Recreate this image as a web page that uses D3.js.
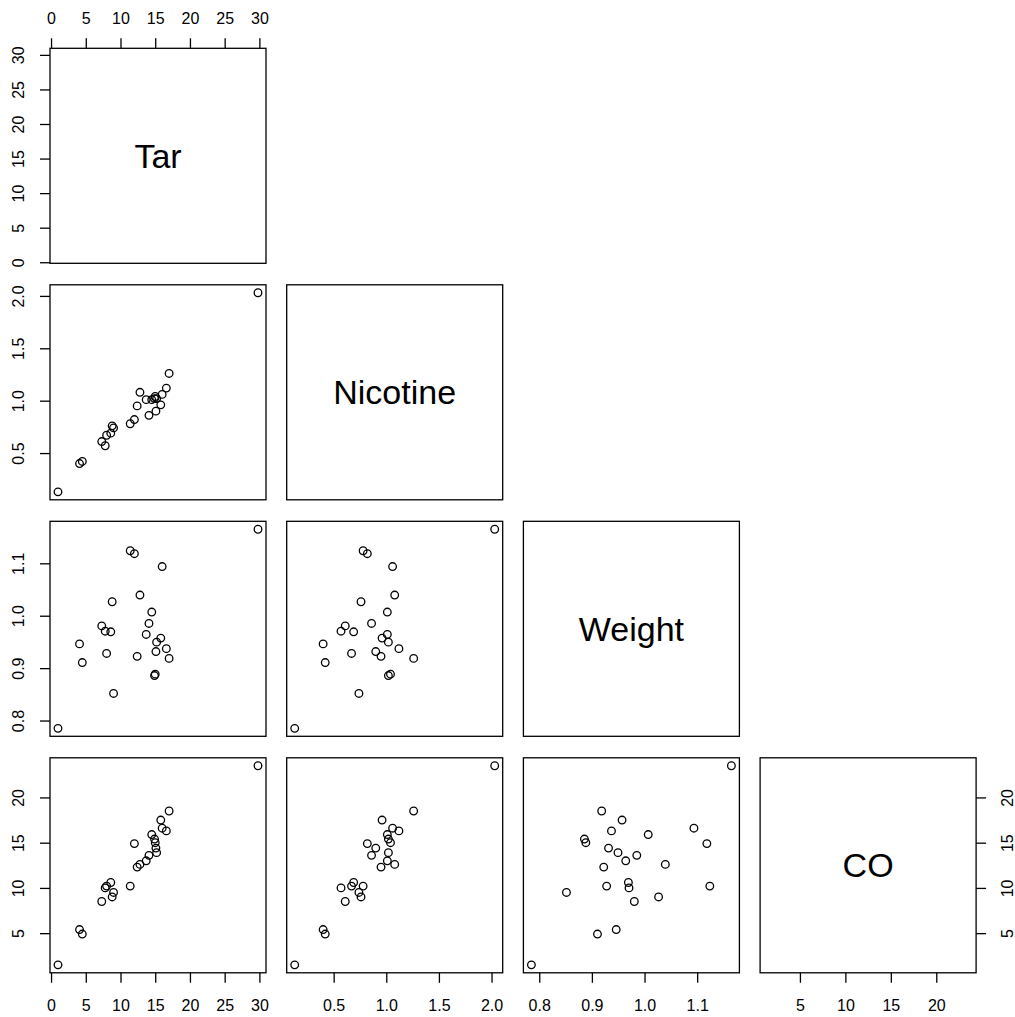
<!DOCTYPE html>
<html>
<head>
<meta charset="utf-8">
<script src="https://cdn.jsdelivr.net/npm/d3@7"></script>
<style>
  body { margin: 0; background: #fff; }
  svg { display: block; font-family: "Liberation Sans", Arial, sans-serif; }
  .box { fill: none; stroke: #000; stroke-width: 1.3; }
  .axis line { stroke: #000; stroke-width: 1.3; }
  .pt { fill: none; stroke: #000; stroke-width: 1.3; }
  .lab { font-size: 34px; text-anchor: middle; }
</style>
</head>
<body>
<script>
// cigarette data (25 brands)
var varNames = ['Tar', 'Nicotine', 'Weight', 'CO'];
var tar = [14.1, 16.0, 29.8, 8.0, 4.1, 15.0, 8.8, 12.4, 16.6, 14.9, 13.7, 15.1, 7.8,
           11.4, 9.0, 1.0, 17.0, 12.8, 15.8, 4.5, 14.5, 7.3, 8.6, 15.2, 12.0];
var nicotine = [0.86, 1.06, 2.03, 0.67, 0.40, 1.04, 0.76, 0.95, 1.12, 1.02, 1.01, 0.90, 0.57,
                0.78, 0.74, 0.13, 1.26, 1.08, 0.96, 0.42, 1.01, 0.61, 0.69, 1.02, 0.82];
var weight = [0.9853, 1.0938, 1.1650, 0.9280, 0.9462, 0.8885, 1.0267, 0.9225, 0.9372, 0.8858,
              0.9643, 0.9316, 0.9705, 1.1240, 0.8517, 0.7851, 0.9186, 1.0395, 0.9573, 0.9106,
              1.0070, 0.9806, 0.9693, 0.9496, 1.1184];
var co = [13.6, 16.6, 23.5, 10.2, 5.4, 15.0, 9.0, 12.3, 16.3, 15.4, 13.0, 14.4, 10.0,
          10.2, 9.5, 1.5, 18.5, 12.6, 17.5, 4.9, 15.9, 8.5, 10.6, 13.9, 14.9];
var columns = [tar, nicotine, weight, co];

var tickVals = [
  [0, 5, 10, 15, 20, 25, 30],
  [0.5, 1.0, 1.5, 2.0],
  [0.8, 0.9, 1.0, 1.1],
  [5, 10, 15, 20]
];
var tickFmt = [d3.format('d'), d3.format('.1f'), d3.format('.1f'), d3.format('d')];

function drawPairs() {
  var W = 1015, H = 1017;
  var x0 = 50, y0 = 48.3, pw = 216, ph = 215, stepX = 236.7, stepY = 236.5;
  var n = varNames.length;
  var font = '"Liberation Sans", Arial, sans-serif';

  var svg = d3.select('body').append('svg')
    .attr('width', W)
    .attr('height', H);

  // R style range: extend by 4%
  function domainOf(v) {
    var ext = d3.extent(v), pad = (ext[1] - ext[0]) * 0.04;
    return [ext[0] - pad, ext[1] + pad];
  }

  function styleAxis(a) {
    a.attr('font-family', font).attr('font-size', 16);
    a.select('.domain').remove();
    a.selectAll('text').attr('fill', '#000');
  }

  for (var i = 0; i < n; i++) {
    for (var j = 0; j <= i; j++) {
      var pl = x0 + j * stepX, pt = y0 + i * stepY;
      var xs = d3.scaleLinear().domain(domainOf(columns[j])).range([pl, pl + pw]);
      var ys = d3.scaleLinear().domain(domainOf(columns[i])).range([pt + ph, pt]);
      var g = svg.append('g');

      if (i == j) {
        g.append('text')
          .attr('class', 'lab')
          .attr('x', pl + pw / 2)
          .attr('y', pt + ph / 2 + 34 * 0.358)
          .text(varNames[i]);
      } else {
        (function(xs, ys, cx, cy) {
          g.selectAll('circle')
            .data(d3.range(tar.length))
            .enter().append('circle')
            .attr('class', 'pt')
            .attr('cx', function(k) { return xs(cx[k]); })
            .attr('cy', function(k) { return ys(cy[k]); })
            .attr('r', 3.8);
        })(xs, ys, columns[j], columns[i]);
      }

      g.append('rect')
        .attr('class', 'box')
        .attr('x', pl).attr('y', pt)
        .attr('width', pw).attr('height', ph);

      // top axis on first panel
      if (i == 0 && j == 0) {
        var ax = svg.append('g').attr('class', 'axis')
          .attr('transform', 'translate(0,' + pt + ')')
          .call(d3.axisTop(xs).tickValues(tickVals[j]).tickFormat(tickFmt[j]).tickSize(10).tickSizeOuter(0));
        styleAxis(ax);
        ax.selectAll('text').attr('y', 24.3 - pt).attr('dy', 0);
      }
      // left axis on first column
      if (j == 0) {
        var al = svg.append('g').attr('class', 'axis')
          .attr('transform', 'translate(' + pl + ',0)')
          .call(d3.axisLeft(ys).tickValues(tickVals[i]).tickFormat(tickFmt[i]).tickSize(10).tickSizeOuter(0));
        styleAxis(al);
        al.selectAll('text')
          .attr('x', 0).attr('y', 0).attr('dy', 0)
          .attr('text-anchor', 'middle')
          .attr('transform', 'translate(' + (24.3 - pl) + ',0) rotate(-90)');
      }
      // bottom axis on last row
      if (i == n - 1) {
        var ab = svg.append('g').attr('class', 'axis')
          .attr('transform', 'translate(0,' + (pt + ph) + ')')
          .call(d3.axisBottom(xs).tickValues(tickVals[j]).tickFormat(tickFmt[j]).tickSize(10).tickSizeOuter(0));
        styleAxis(ab);
        ab.selectAll('text').attr('y', 1011 - (pt + ph)).attr('dy', 0);
      }
      // right axis on last diagonal panel
      if (i == n - 1 && j == n - 1) {
        var ar = svg.append('g').attr('class', 'axis')
          .attr('transform', 'translate(' + (pl + pw) + ',0)')
          .call(d3.axisRight(ys).tickValues(tickVals[i]).tickFormat(tickFmt[i]).tickSize(10).tickSizeOuter(0));
        styleAxis(ar);
        ar.selectAll('text')
          .attr('x', 0).attr('y', 0).attr('dy', 0)
          .attr('text-anchor', 'middle')
          .attr('transform', 'translate(' + (1013 - pl - pw) + ',0) rotate(-90)');
      }
    }
  }
}

drawPairs();
</script>
</body>
</html>
